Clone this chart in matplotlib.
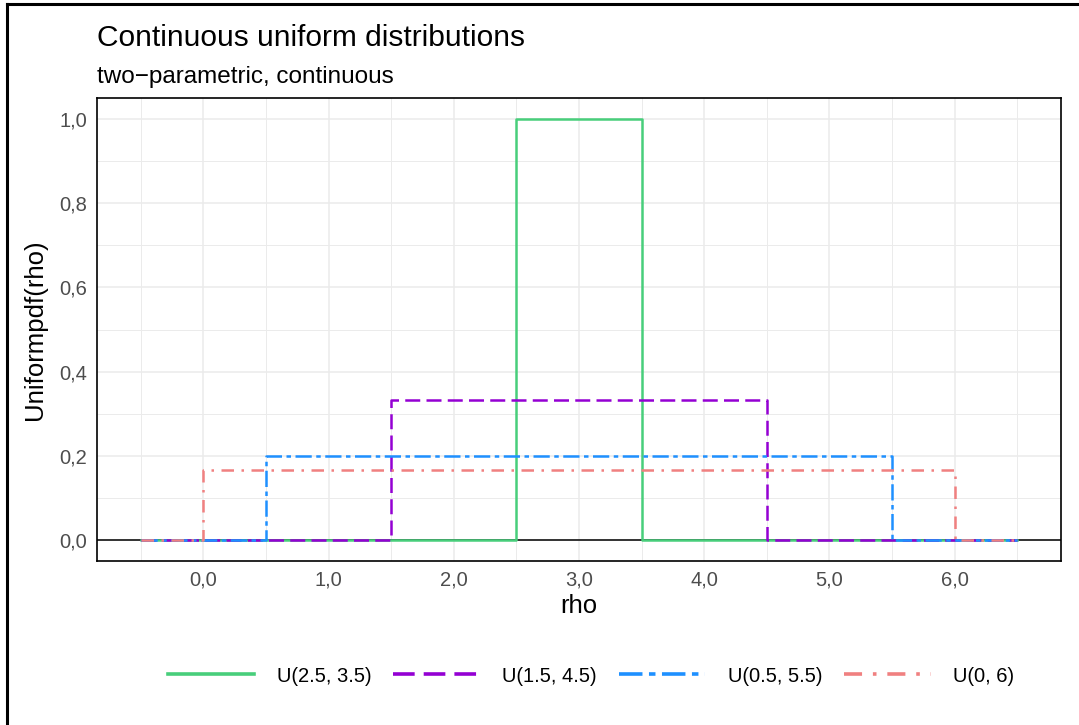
import matplotlib
matplotlib.use('Agg')
import matplotlib.pyplot as plt
from matplotlib.lines import Line2D

plt.rcParams['font.family'] = ['Liberation Sans', 'DejaVu Sans']

# distribution parameters and pdf heights
labels = ['U(2.5, 3.5)', 'U(1.5, 4.5)', 'U(0.5, 5.5)', 'U(0, 6)']
lower = [2.5, 1.5, 0.5, 0.0]
upper = [3.5, 4.5, 5.5, 6.0]
height = [1.0, 0.333, 0.2, 0.1667]
x_start, x_end = -0.5, 6.5

colors = ['#48CE7B', '#9400D3', '#1E90FF', '#F08080']
styles = ['-', (0, (6, 2.5)), (0, (6.5, 1.8, 1.8, 1.8)), (0, (5, 3, 1, 3))]

x_ticks = [0, 1, 2, 3, 4, 5, 6]
x_ticklabels = ['0,0', '1,0', '2,0', '3,0', '4,0', '5,0', '6,0']
y_ticks = [0.0, 0.2, 0.4, 0.6, 0.8, 1.0]
y_ticklabels = ['0,0', '0,2', '0,4', '0,6', '0,8', '1,0']

W, H = 1079, 725
fig = plt.figure(figsize=(W / 100, H / 100), dpi=100)
ax = fig.add_axes([97 / W, 1 - 561 / H, (1061 - 97) / W, (561 - 98) / H])

# grid: major + minor, like ggplot
for xv in x_ticks:
    ax.axvline(xv, color='#EBEBEB', lw=1.1, zorder=0)
for xv in [v + 0.5 for v in [-1] + x_ticks]:
    ax.axvline(xv, color='#EBEBEB', lw=0.7, zorder=0)
for yv in y_ticks:
    ax.axhline(yv, color='#EBEBEB', lw=1.1, zorder=0)
for yv in [v + 0.1 for v in y_ticks[:-1]]:
    ax.axhline(yv, color='#EBEBEB', lw=0.7, zorder=0)

ax.axhline(0, color='black', lw=1.1, zorder=1)

handles = []
for i in range(len(labels)):
    a, b, h = lower[i], upper[i], height[i]
    xs = [x_start, a, a, b, b, x_end]
    ys = [0, 0, h, h, 0, 0]
    ax.plot(xs, ys, color=colors[i], ls=styles[i], lw=1.8, zorder=2 + i)
    handles.append(Line2D([], [], color=colors[i], ls=styles[i], lw=2.6))

ax.set_xlim(-0.85, 6.85)
ax.set_ylim(-0.05, 1.05)
ax.set_xticks(x_ticks)
ax.set_xticklabels(x_ticklabels)
ax.set_yticks(y_ticks)
ax.set_yticklabels(y_ticklabels)
ax.tick_params(length=0, labelsize=14.5, labelcolor='#4D4D4D', pad=7)
for s in ax.spines.values():
    s.set_linewidth(1.2)
    s.set_color('black')

fig.text(97 / W, 1 - 38 / H, 'Continuous uniform distributions',
         fontsize=21.5, va='center', ha='left')
fig.text(97 / W, 1 - 77 / H, 'two\u2212parametric, continuous',
         fontsize=17.5, va='center', ha='left')
fig.text(579 / W, 1 - 606 / H, 'rho', fontsize=18.5, ha='center', va='center')
fig.text(35 / W, 1 - 330 / H, 'Uniformpdf(rho)', fontsize=18.5,
         ha='center', va='center', rotation=90)

fig.legend(handles, labels, loc='center', bbox_to_anchor=(591 / W, 1 - 676 / H),
           ncol=4, frameon=False, fontsize=14.5, handlelength=4.3,
           handletextpad=1.1, columnspacing=1.1)

# outer frame (left and top edges visible)
fig.add_artist(Line2D([7 / W, 7 / W], [0, 1 - 4 / H], color='black', lw=2.2,
                      transform=fig.transFigure))
fig.add_artist(Line2D([7 / W, 1], [1 - 4 / H, 1 - 4 / H], color='black', lw=2.2,
                      transform=fig.transFigure))

fig.savefig('out.png', dpi=100)
